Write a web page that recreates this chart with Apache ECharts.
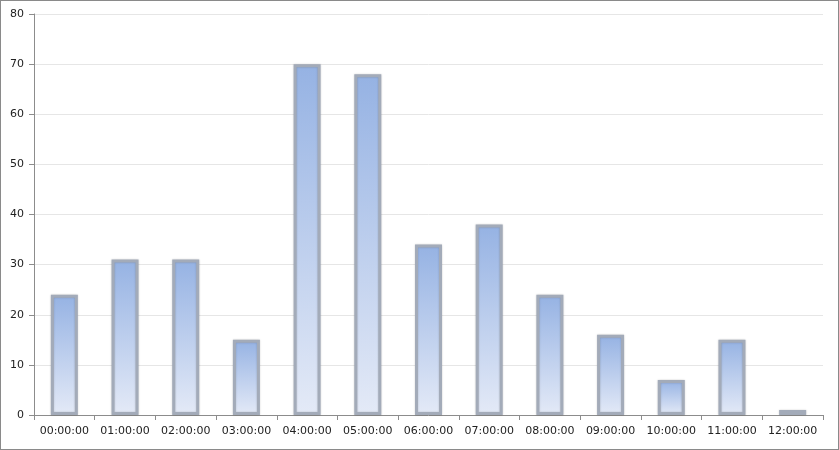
<!DOCTYPE html>
<html><head><meta charset="utf-8">
<script src="https://cdn.jsdelivr.net/npm/echarts@6/dist/echarts.min.js"></script>
<style>html,body{margin:0;padding:0;background:#fff}#c{width:837px;height:448px;border:1px solid #8a8a8a}</style>
</head><body><div id="c"></div>
<script>
const categories = ["00:00:00","01:00:00","02:00:00","03:00:00","04:00:00","05:00:00","06:00:00","07:00:00","08:00:00","09:00:00","10:00:00","11:00:00","12:00:00"];
const values = [24, 31, 31, 15, 70, 68, 34, 38, 24, 16, 7, 15, 1];
const yTicks = [0, 10, 20, 30, 40, 50, 60, 70, 80];
const chart = echarts.init(document.getElementById('c'));
chart.setOption({
  animation: false,
  grid: {left: 33, right: 15, top: 13, bottom: 34},
  xAxis: {
    type: 'category', data: categories,
    axisLine: {lineStyle: {color: '#8c8c8c'}},
    axisTick: {show: true, length: 5, interval: 0, lineStyle: {color: '#8c8c8c'}},
    axisLabel: {color: '#222', fontSize: 11, fontFamily: 'DejaVu Sans', margin: 11, interval: 0}
  },
  yAxis: {
    type: 'value', min: yTicks[0], max: yTicks[yTicks.length-1], interval: 10,
    axisLine: {show: true, lineStyle: {color: '#8c8c8c'}},
    axisTick: {show: true, length: 5, lineStyle: {color: '#8c8c8c'}},
    splitLine: {lineStyle: {color: '#e6e6e6'}},
    axisLabel: {color: '#222', fontSize: 11, fontFamily: 'DejaVu Sans', margin: 10}
  },
  series: [{
    type: 'bar', data: values, barWidth: 27,
    itemStyle: {
      color: new echarts.graphic.LinearGradient(0, 0, 0, 1, [
        {offset: 0, color: '#95b2e3'}, {offset: 1, color: '#e4eaf7'}
      ]),
      borderColor: '#a3abb9', borderWidth: 3,
      shadowColor: 'rgba(0,0,0,0.2)', shadowBlur: 2
    }
  }]
});
</script></body></html>
